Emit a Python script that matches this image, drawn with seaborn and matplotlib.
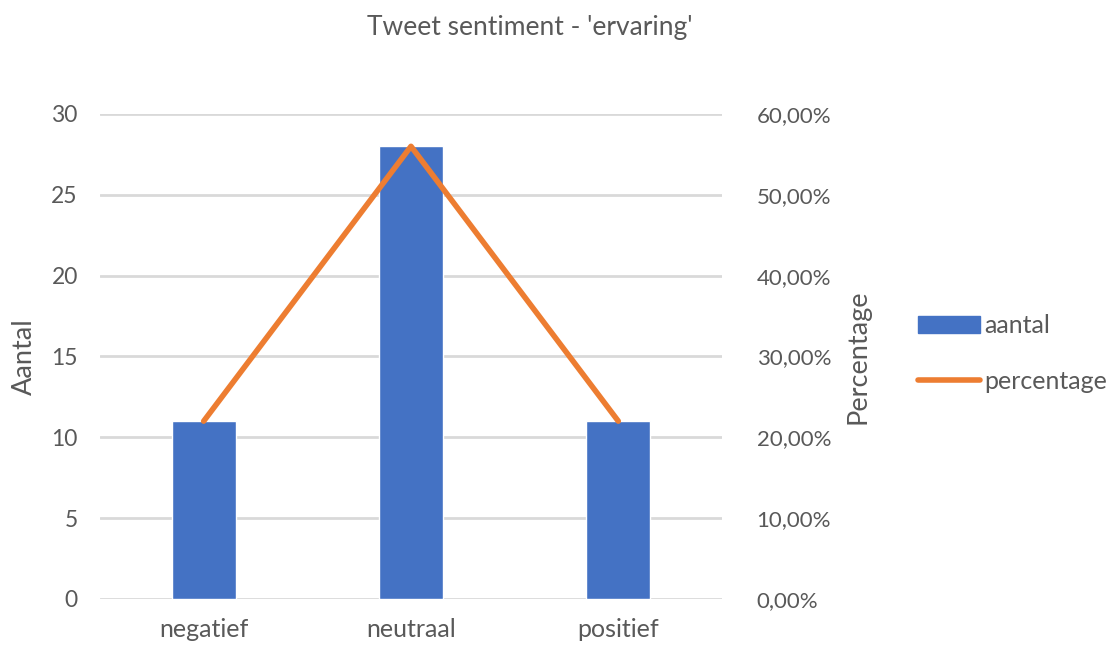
import matplotlib
matplotlib.use("Agg")
import matplotlib.pyplot as plt
import seaborn as sns
import pandas as pd
from matplotlib.ticker import FuncFormatter
from matplotlib.lines import Line2D
from matplotlib.patches import Patch

categories = ["negatief", "neutraal", "positief"]
aantal = [11, 28, 11]
percentage = [0.22, 0.56, 0.22]
title = "Tweet sentiment - 'ervaring'"

sns.set_theme(style="white")
plt.rcParams['font.family'] = ['Lato', 'DejaVu Sans']

BLUE = "#4472C4"
ORANGE = "#ED7D31"
TXT = "#595959"
GRID = "#D9D9D9"

df = pd.DataFrame({"cat": categories, "aantal": aantal, "percentage": percentage})

fig = plt.figure(figsize=(11.15, 6.51), dpi=100)
ax = fig.add_axes([0.0897, 0.0799, 0.5578, 0.745])
sns.barplot(data=df, x="cat", y="aantal", color=BLUE, width=0.31, ax=ax, saturation=1)
ax.set_ylim(0, 30)
ax.set_xlim(-0.5, 2.5)
ax.set_yticks(range(0, 31, 5))
ax.yaxis.grid(True, color=GRID, linewidth=2)
ax.set_axisbelow(True)
for s in ax.spines.values():
    s.set_visible(False)
ax.tick_params(axis="y", length=0, labelsize=16.5, colors=TXT, pad=16)
ax.tick_params(axis="x", length=0, labelsize=18, colors=TXT, pad=14)
ax.set_xlabel("")
ax.set_ylabel("Aantal", fontsize=19.5, color=TXT, labelpad=10)

ax2 = ax.twinx()
sns.lineplot(data=df, x="cat", y="percentage", color=ORANGE, linewidth=4, ax=ax2,
             solid_capstyle="round", legend=False)
ax2.set_ylim(0, 0.6)
ax2.set_yticks([0, 0.1, 0.2, 0.3, 0.4, 0.5, 0.6])
ax2.yaxis.set_major_formatter(FuncFormatter(lambda v, p: f"{v*100:.2f}%".replace(".", ",")))
for s in ax2.spines.values():
    s.set_visible(False)
ax2.tick_params(axis="y", length=0, labelsize=16, colors=TXT, pad=25)
ax2.set_ylabel("Percentage", fontsize=19.5, color=TXT, labelpad=10)
ax2.set_xlim(-0.5, 2.5)

fig.text(0.475, 0.958, title, ha="center", va="center", fontsize=19, color=TXT)

handles = [Patch(facecolor=BLUE, edgecolor=BLUE),
           Line2D([0], [0], color=ORANGE, linewidth=4, solid_capstyle="round")]
fig.legend(handles, ["aantal", "percentage"], loc="center left",
           bbox_to_anchor=(0.823, 0.457), frameon=False, fontsize=18,
           labelcolor=TXT, handlelength=2.5, handletextpad=0.15, labelspacing=1.3,
           handleheight=0.7, borderpad=0, borderaxespad=0)

fig.savefig("out.png", dpi=100)
